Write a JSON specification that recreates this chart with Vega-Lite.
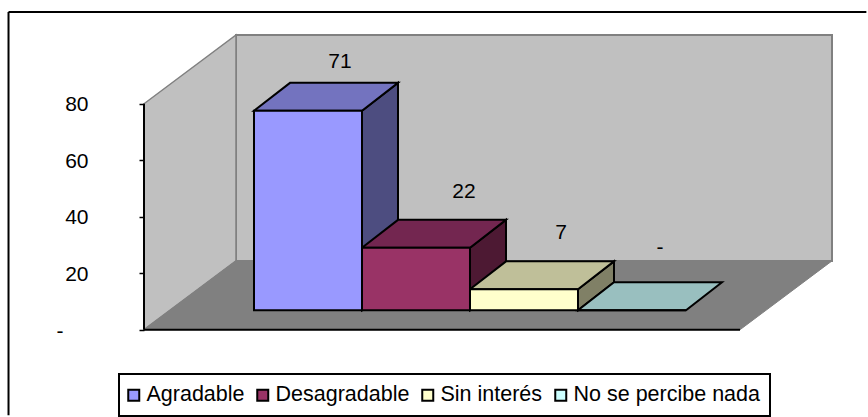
{
"$schema":"https://vega.github.io/schema/vega-lite/v6.json",
"width":868,"height":417,"padding":0,"autosize":{"type":"fit","contains":"padding"},
"background":"white",
"config":{"view":{"stroke":null},"font":"Liberation Sans","legend":{"strokeWidth":2}},
"datasets":{
"frameleft":[{"x":-1.273,"y":112.5,"y2":-30.3}],
"frametop":[{"x":-1.273,"x2":6.67,"y":112.5}],
"backwall":[{"x":0.8333,"x2":6.3519,"y":24.37,"y2":104.38}],
"leftwall":[{"x":-0.0185,"y":0,"y2":80},{"x":0.8333,"y":24.37,"y2":104.38}],
"floor":[{"y":0,"x":-0.0185,"x2":5.5},{"y":24.37,"x":0.8333,"x2":6.3519}],
"axisline":[{"x":-0.0185,"y":0,"y2":80}],
"baseline":[{"x":-0.0185,"x2":5.5,"y":0}],
"fronts":[
{"respuesta":"Agradable","x":1,"x2":2,"y":77.5,"y2":6.9},
{"respuesta":"Desagradable","x":2,"x2":3,"y":29,"y2":6.9},
{"respuesta":"Sin interés","x":3,"x2":4,"y":14.3,"y2":6.9},
{"respuesta":"No se percibe nada","x":4,"x2":5,"y":6.9,"y2":6.9}],
"sides":[
{"respuesta":"Agradable","x":2,"y":77.5,"y2":6.9},
{"respuesta":"Agradable","x":2.3333,"y":87.4,"y2":16.8},
{"respuesta":"Desagradable","x":3,"y":29,"y2":6.9},
{"respuesta":"Desagradable","x":3.3333,"y":38.9,"y2":16.8},
{"respuesta":"Sin interés","x":4,"y":14.3,"y2":6.9},
{"respuesta":"Sin interés","x":4.3333,"y":24.2,"y2":16.8}],
"tops":[
{"respuesta":"Agradable","y":77.5,"x":1,"x2":2},
{"respuesta":"Agradable","y":87.4,"x":1.3333,"x2":2.3333},
{"respuesta":"Desagradable","y":29,"x":2,"x2":3},
{"respuesta":"Desagradable","y":38.9,"x":2.3333,"x2":3.3333},
{"respuesta":"Sin interés","y":14.3,"x":3,"x2":4},
{"respuesta":"Sin interés","y":24.2,"x":3.3333,"x2":4.3333},
{"respuesta":"No se percibe nada","y":6.9,"x":4,"x2":5},
{"respuesta":"No se percibe nada","y":16.8,"x":4.3333,"x2":5.3333}],
"labels":[
{"x":1.796,"y":94.8,"t":"71"},
{"x":2.944,"y":48.9,"t":"22"},
{"x":3.843,"y":34.1,"t":"7"},
{"x":4.76,"y":28.8,"t":"-"},
{"x":-0.796,"y":-0.9,"t":"-"}]
},
"encoding":{
 "x":{"field":"x","type":"quantitative","stack":null,"scale":{"domain":[-1.35185,6.68519],"nice":false,"zero":false},"axis":null},
 "y":{"field":"y","type":"quantitative","stack":null,"scale":{"domain":[-30.55,116.74],"nice":false,"zero":false},
  "axis":{"title":null,"orient":"left","offset":-144,"zindex":1,"values":[0,20,40,60,80],"domain":false,"grid":false,"tickColor":"black","tickSize":5,"tickWidth":1.5,"labelPadding":51,"labelOffset":1,"labelFontSize":21,"labelFont":"Liberation Sans","labelColor":"black","labelExpr":"datum.value==0?'':datum.label"}}
},
"layer":[
{"data":{"name":"frameleft"},"mark":{"type":"rule","color":"black","strokeWidth":2},
 "encoding":{"y2":{"field":"y2"}}},
{"data":{"name":"frametop"},"mark":{"type":"rule","color":"black","strokeWidth":2},
 "encoding":{"x2":{"field":"x2"}}},
{"data":{"name":"backwall"},"mark":{"type":"rect","fill":"#C0C0C0","stroke":"#808080","strokeWidth":2},
 "encoding":{"x2":{"field":"x2"},"y2":{"field":"y2"}}},
{"data":{"name":"leftwall"},"mark":{"type":"area","fill":"#C0C0C0","stroke":"#808080","strokeWidth":1.5},
 "encoding":{"y2":{"field":"y2"}}},
{"data":{"name":"floor"},"mark":{"type":"area","orient":"horizontal","fill":"#808080","stroke":"#808080","strokeWidth":1},
 "encoding":{"x2":{"field":"x2"}}},
{"data":{"name":"axisline"},"mark":{"type":"rule","color":"black","strokeWidth":2},
 "encoding":{"y2":{"field":"y2"}}},
{"data":{"name":"baseline"},"mark":{"type":"rule","color":"black","strokeWidth":2},
 "encoding":{"x2":{"field":"x2"}}},
{"data":{"name":"sides"},"mark":{"type":"area","stroke":"black","strokeWidth":2},
 "encoding":{"y2":{"field":"y2"},
 "color":{"field":"respuesta","type":"nominal","legend":null,"scale":{"domain":["Agradable","Desagradable","Sin interés"],"range":["#4D4D80","#4D1933","#808066"]}}}},
{"data":{"name":"tops"},"mark":{"type":"area","orient":"horizontal","stroke":"black","strokeWidth":2},
 "encoding":{"x2":{"field":"x2"},
 "color":{"field":"respuesta","type":"nominal","legend":null,"scale":{"domain":["Agradable","Desagradable","Sin interés","No se percibe nada"],"range":["#7373BF","#732650","#BFBF99","#99BFBF"]}}}},
{"data":{"name":"fronts"},"mark":{"type":"rect","stroke":"black","strokeWidth":2},
 "encoding":{"x2":{"field":"x2"},"y2":{"field":"y2"},
 "color":{"field":"respuesta","type":"nominal","scale":{"domain":["Agradable","Desagradable","Sin interés","No se percibe nada"],"range":["#9999FF","#993366","#FFFFCC","#CCFFFF"]},
 "legend":{"title":null,"orient":"none","legendX":119,"legendY":374,"direction":"horizontal","columns":4,"columnPadding":8,"padding":10,"fillColor":"white","strokeColor":"black","symbolType":"square","symbolSize":121,"symbolStrokeColor":"black","symbolStrokeWidth":2,"symbolOpacity":1,"symbolOffset":-6,"labelFontSize":21.5,"labelFont":"Liberation Sans","labelColor":"black","labelOffset":2,"labelLimit":400}}}},
{"data":{"name":"labels"},"mark":{"type":"text","fontSize":21,"font":"Liberation Sans","color":"black","baseline":"middle","align":"center"},
 "encoding":{"text":{"field":"t","type":"nominal"}}}
],
"resolve":{"scale":{"color":"independent"}}
}
